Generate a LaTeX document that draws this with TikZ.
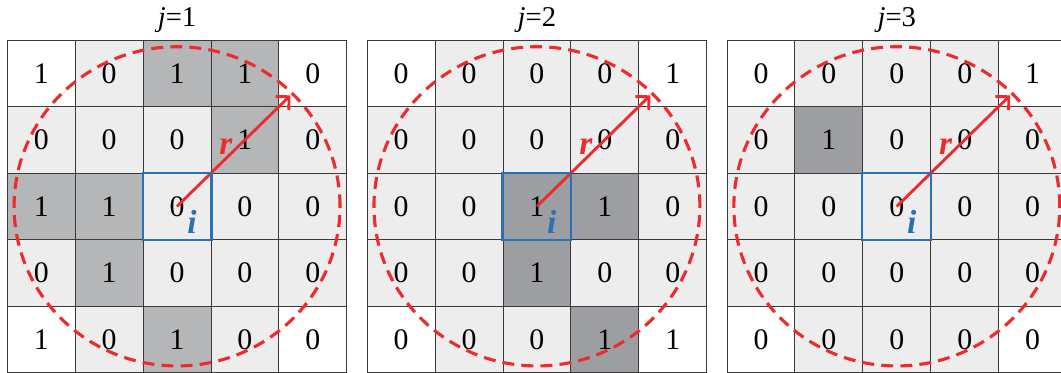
\documentclass[tikz,border=0pt]{standalone}
\usepackage{fontspec}
\setmainfont{Liberation Serif}
\usetikzlibrary{calc,arrows.meta}

\definecolor{cellgray}{HTML}{EDEDED}
\definecolor{darkA}{HTML}{B5B6B8}
\definecolor{darkB}{HTML}{9D9EA1}
\definecolor{ringred}{HTML}{EE2A2D}
\definecolor{boxblue}{HTML}{2A70B6}
\definecolor{gridline}{HTML}{3A3A3A}

\begin{document}
\begin{tikzpicture}[x=1cm, y=0.9794cm,
    cell/.style={draw=gridline, line width=0.4pt, minimum width=1cm,
        minimum height=0.9794cm, inner sep=0pt, font=\fontsize{12.5}{14}\selectfont},
    ring/.style={ringred, line width=1.3pt, dash pattern=on 5pt off 3pt},
    radius arrow/.style={ringred, line width=1.2pt, -{Straight Barb[length=4pt,width=8pt]}},
    centre box/.style={draw=boxblue, line width=0.9pt},
    rlabel/.style={ringred, font=\fontsize{14}{16}\selectfont\bfseries\itshape, inner sep=0pt},
    ilabel/.style={boxblue, font=\fontsize{14}{16}\selectfont\bfseries\itshape, inner sep=0pt},
    title/.style={font=\fontsize{12}{14}\selectfont}]

    \useasboundingbox (-0.1075,0) rectangle (15.518,5.603);

    \foreach \g/\xo/\dk/\rows in {
        1/0/darkA/{{1,0,1,1,0},{0,0,0,1,0},{1,1,0,0,0},{0,1,0,0,0},{1,0,1,0,0}},
        2/5.3/darkB/{{0,0,0,0,1},{0,0,0,0,0},{0,0,1,1,0},{0,0,1,0,0},{0,0,0,1,1}},
        3/10.6/darkB/{{0,0,0,0,1},{0,1,0,0,0},{0,0,0,0,0},{0,0,0,0,0},{0,0,0,0,0}}} {

        % Cells (corners white, ones shaded)
        \foreach \row [count=\rw from 0] in \rows {
            \foreach \v [count=\cl from 0] in \row {
                \pgfmathtruncatemacro{\corner}{and(or(\rw==0,\rw==4),or(\cl==0,\cl==4))}
                \ifnum\corner=1 \def\fillc{white}\else
                    \ifnum\v=1 \def\fillc{\dk}\else\def\fillc{cellgray}\fi\fi
                \node[cell, fill=\fillc] (g\g-\rw-\cl) at (\xo+\cl+0.5, 4.5-\rw) {\v};
            }
        }

        % Title
        \node[title] (title\g) at (\xo+2.5, 5.3) {\textit{j}=\g};

        % Neighbourhood circle and radius
        \draw[ring] (g\g-2-2.center) circle[radius=2.4];
        \coordinate (tip\g) at ($(g\g-2-2.center)+(1.67,1.67)$);
        \draw[radius arrow] (g\g-2-2.center) -- (tip\g);

        % Centre cell i
        \draw[centre box] (g\g-2-2.south west) rectangle (g\g-2-2.north east);
        \node[rlabel] (r\g) at ($(g\g-2-2.center)+(0.72,0.9)$) {r};
        \node[ilabel] (i\g) at ($(g\g-2-2.center)+(0.22,-0.24)$) {i};
    }

\end{tikzpicture}
\end{document}
